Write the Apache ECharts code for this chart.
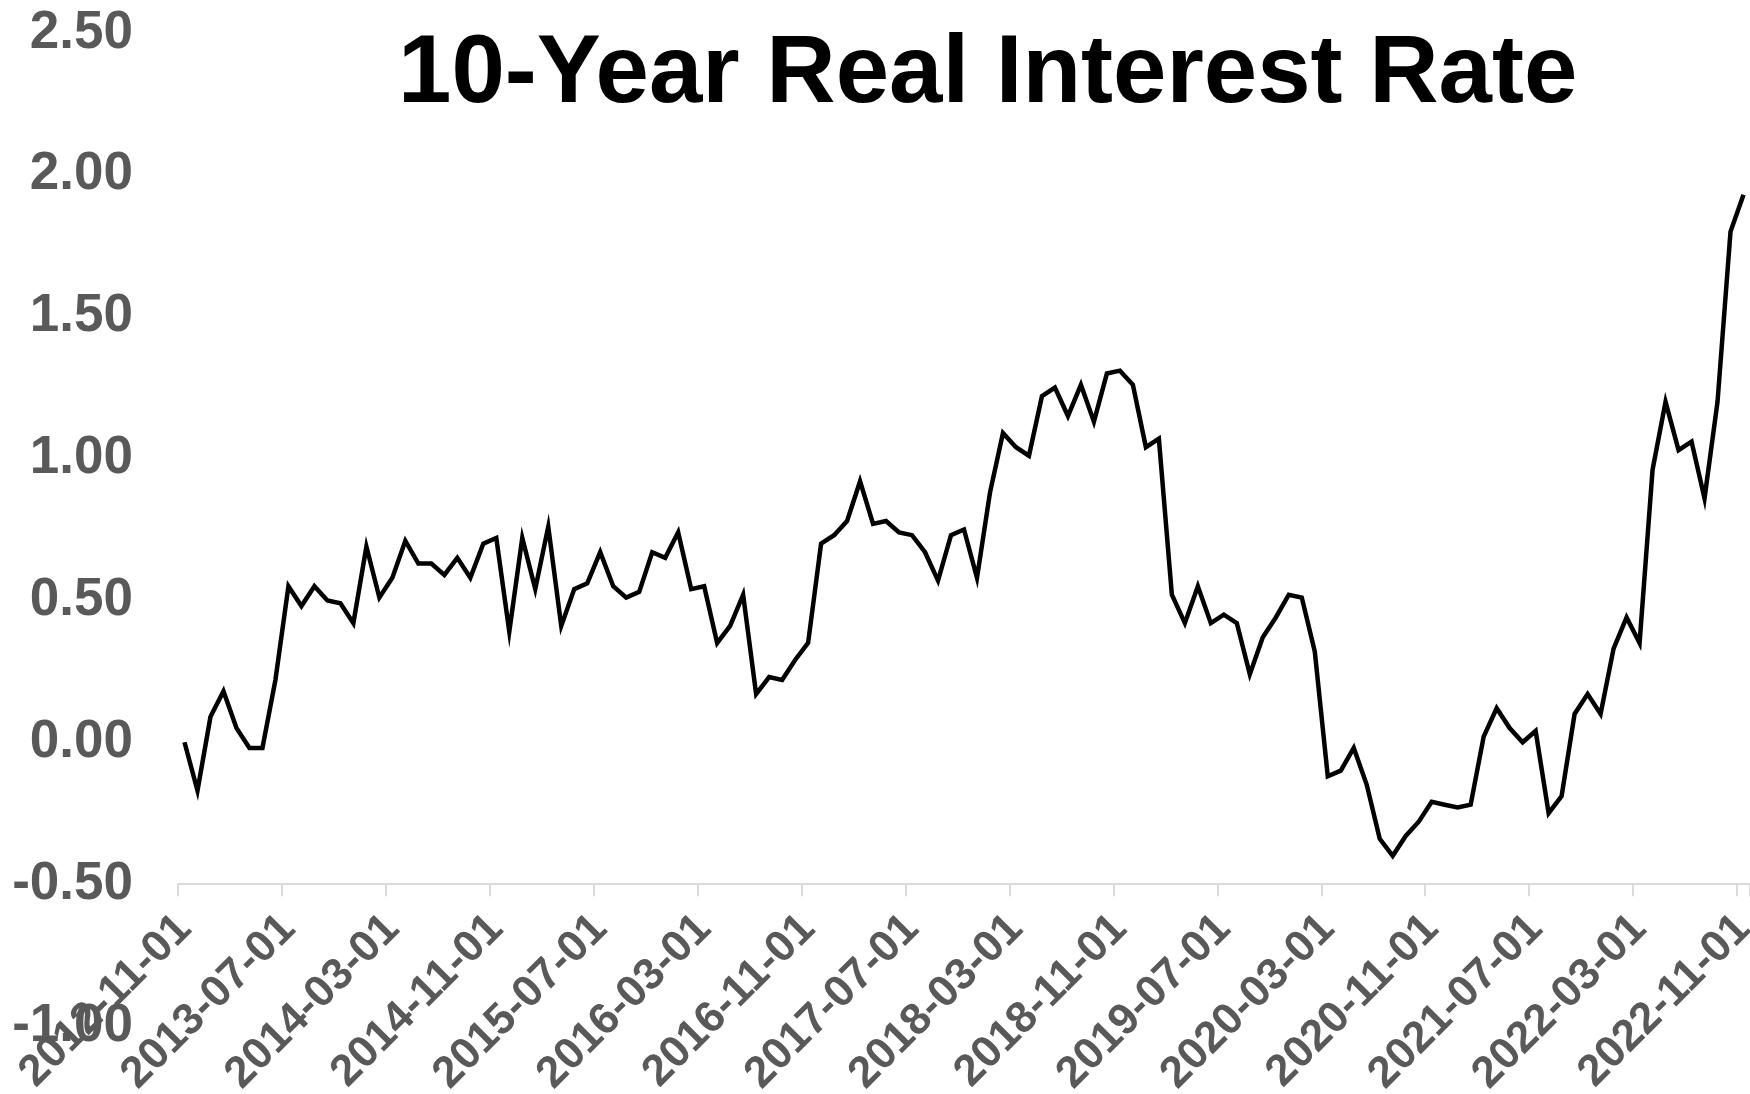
<!DOCTYPE html>
<html>
<head>
<meta charset="utf-8">
<script src="https://cdn.jsdelivr.net/npm/echarts@6/dist/echarts.min.js"></script>
<style>
html,body{margin:0;padding:0;background:#fff;}
#chart{width:1750px;height:1094px;}
</style>
</head>
<body>
<div id="chart"></div>
<script>
const titleText = '10-Year Real Interest Rate';

const dates = [
  '2012-11-01','2012-12-01',
  '2013-01-01','2013-02-01','2013-03-01','2013-04-01','2013-05-01','2013-06-01','2013-07-01','2013-08-01','2013-09-01','2013-10-01','2013-11-01','2013-12-01',
  '2014-01-01','2014-02-01','2014-03-01','2014-04-01','2014-05-01','2014-06-01','2014-07-01','2014-08-01','2014-09-01','2014-10-01','2014-11-01','2014-12-01',
  '2015-01-01','2015-02-01','2015-03-01','2015-04-01','2015-05-01','2015-06-01','2015-07-01','2015-08-01','2015-09-01','2015-10-01','2015-11-01','2015-12-01',
  '2016-01-01','2016-02-01','2016-03-01','2016-04-01','2016-05-01','2016-06-01','2016-07-01','2016-08-01','2016-09-01','2016-10-01','2016-11-01','2016-12-01',
  '2017-01-01','2017-02-01','2017-03-01','2017-04-01','2017-05-01','2017-06-01','2017-07-01','2017-08-01','2017-09-01','2017-10-01','2017-11-01','2017-12-01',
  '2018-01-01','2018-02-01','2018-03-01','2018-04-01','2018-05-01','2018-06-01','2018-07-01','2018-08-01','2018-09-01','2018-10-01','2018-11-01','2018-12-01',
  '2019-01-01','2019-02-01','2019-03-01','2019-04-01','2019-05-01','2019-06-01','2019-07-01','2019-08-01','2019-09-01','2019-10-01','2019-11-01','2019-12-01',
  '2020-01-01','2020-02-01','2020-03-01','2020-04-01','2020-05-01','2020-06-01','2020-07-01','2020-08-01','2020-09-01','2020-10-01','2020-11-01','2020-12-01',
  '2021-01-01','2021-02-01','2021-03-01','2021-04-01','2021-05-01','2021-06-01','2021-07-01','2021-08-01','2021-09-01','2021-10-01','2021-11-01','2021-12-01',
  '2022-01-01','2022-02-01','2022-03-01','2022-04-01','2022-05-01','2022-06-01','2022-07-01','2022-08-01','2022-09-01','2022-10-01','2022-11-01'
];

const realRate = [
  0.00,-0.17,
  0.09,0.18,0.05,-0.02,-0.02,0.22,0.55,0.48,0.55,0.50,0.49,0.42,
  0.69,0.51,0.58,0.71,0.63,0.63,0.59,0.65,0.58,0.70,0.72,0.39,
  0.72,0.54,0.76,0.41,0.54,0.56,0.67,0.55,0.51,0.53,0.67,0.65,
  0.74,0.54,0.55,0.35,0.41,0.52,0.17,0.23,0.22,0.29,0.35,0.70,
  0.73,0.78,0.92,0.77,0.78,0.74,0.73,0.67,0.57,0.73,0.75,0.58,
  0.88,1.09,1.04,1.01,1.22,1.25,1.15,1.26,1.13,1.30,1.31,1.26,
  1.04,1.07,0.52,0.42,0.55,0.42,0.45,0.42,0.24,0.37,0.44,0.52,
  0.51,0.32,-0.12,-0.10,-0.02,-0.15,-0.34,-0.40,-0.33,-0.28,-0.21,-0.22,
  -0.23,-0.22,0.02,0.12,0.05,0.00,0.04,-0.25,-0.19,0.10,0.17,0.10,
  0.33,0.44,0.35,0.96,1.20,1.03,1.06,0.86,1.20,1.80,1.93
];

const yMin = -1.0, yMax = 2.5, yStep = 0.5;

const FONT = 'Arial, "Liberation Sans", sans-serif';
const gridTop = 33, gridBottom = 68;
const H = 1094;
const axisShift = -((H - gridTop - gridBottom) / ((yMax - yMin) / yStep)); // place x axis at -0.50

const chart = echarts.init(document.getElementById('chart'), null, {renderer: 'canvas'});
chart.setOption({
  animation: false,
  backgroundColor: '#ffffff',
  title: {
    text: titleText,
    left: 393,
    top: 23,
    textStyle: {fontFamily: FONT, fontSize: 96, fontWeight: 'bold', color: '#000000'}
  },
  grid: {left: 178, right: 0, top: gridTop, bottom: gridBottom, containLabel: false, outerBoundsMode: 'none'},
  xAxis: {
    type: 'category',
    data: dates,
    boundaryGap: true,
    offset: axisShift,
    axisLine: {show: true, onZero: false, lineStyle: {color: '#d9d9d9', width: 2}},
    axisTick: {show: true, length: 12, interval: 7, lineStyle: {color: '#d9d9d9', width: 2}},
    axisLabel: {
      interval: 7, rotate: 45, margin: 38,
      fontFamily: FONT, fontSize: 44, fontWeight: 'bold', color: '#595959'
    },
    splitLine: {show: false}
  },
  yAxis: {
    type: 'value',
    min: yMin, max: yMax, interval: yStep,
    axisLine: {show: false},
    axisTick: {show: false},
    splitLine: {show: false},
    axisLabel: {
      margin: 45,
      padding: [7, 0, 0, 0],
      fontFamily: FONT, fontSize: 53, fontWeight: 'bold', color: '#595959',
      formatter: v => v.toFixed(2)
    }
  },
  series: [{
    type: 'line',
    data: realRate,
    showSymbol: false,
    symbol: 'none',
    lineStyle: {color: '#000000', width: 4.5, join: 'miter'},
    clip: false
  }]
});
</script>
</body>
</html>
